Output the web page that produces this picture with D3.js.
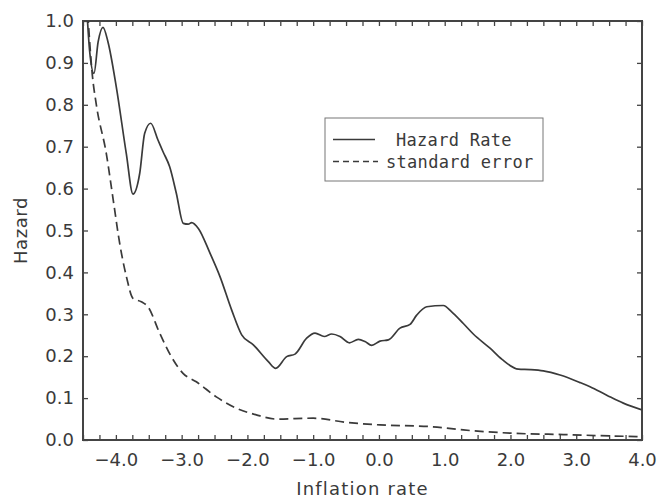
<!DOCTYPE html>
<html>
<head>
<meta charset="utf-8">
<script src="https://cdn.jsdelivr.net/npm/d3@7"></script>
<style>
  body { margin: 0; background: #fff; }
  svg { display: block; }
  .tick text { font-family: "DejaVu Sans", sans-serif; font-size: 18px; fill: #3a3a3a; }
  .tick line { stroke: #444; stroke-width: 1.3; }
  .axis path.domain { display: none; }
</style>
</head>
<body>
<svg id="hazard_chart" width="657" height="498"></svg>
<script>

// inflation rate (x) and hazard rate
var hazard_x = [-4.45, -4.40, -4.333, -4.27, -4.196, -4.12, -3.994, -3.842, -3.74, -3.638, -3.562,
  -3.471, -3.36, -3.283, -3.182, -3.081, -2.975, -2.90, -2.847, -2.746, -2.569, -2.417, -2.239,
  -2.087, -1.910, -1.682, -1.570, -1.403, -1.276, -1.099, -0.972, -0.831, -0.718, -0.592, -0.45,
  -0.314, -0.212, -0.11, 0.016, 0.143, 0.32, 0.473, 0.574, 0.727, 0.979, 1.106, 1.283, 1.435,
  1.689, 1.867, 2.12, 2.30, 2.5, 2.754, 3.058, 3.21, 3.464, 3.716, 4.0];
var hazard_y = [1.05, 0.93, 0.875, 0.95, 0.985, 0.95, 0.843, 0.684, 0.587, 0.636, 0.732,
  0.756, 0.716, 0.688, 0.652, 0.589, 0.517, 0.515, 0.519, 0.505, 0.446, 0.390, 0.310,
  0.251, 0.227, 0.187, 0.171, 0.199, 0.205, 0.243, 0.255, 0.247, 0.253, 0.247, 0.232,
  0.240, 0.235, 0.226, 0.236, 0.239, 0.267, 0.276, 0.298, 0.318, 0.321, 0.306, 0.278, 0.253,
  0.219, 0.193, 0.169, 0.168, 0.165, 0.155, 0.137, 0.127, 0.107, 0.088, 0.072];

// standard error of the hazard
var se_x = [-4.44, -4.358, -4.297, -4.146, -4.033, -3.942, -3.84, -3.74, -3.613, -3.512, -3.334,
  -3.157, -2.979, -2.777, -2.473, -2.169, -1.865, -1.56, -1.0, -0.49, 0.016, 0.777, 1.283,
  2.044, 2.804, 3.564, 4.0];
var se_y = [1.05, 0.871, 0.80, 0.684, 0.565, 0.469, 0.39, 0.338, 0.33, 0.318, 0.255,
  0.199, 0.159, 0.139, 0.103, 0.076, 0.06, 0.05, 0.052, 0.042, 0.036, 0.032, 0.024,
  0.016, 0.013, 0.0095, 0.008];

var x_tick_labels = [-4, -3, -2, -1, 0, 1, 2, 3, 4];
var y_tick_labels = [0, 0.1, 0.2, 0.3, 0.4, 0.5, 0.6, 0.7, 0.8, 0.9, 1.0];
var legend_labels = ["Hazard Rate", "standard error"];

var margin = {top: 21, right: 15, bottom: 58, left: 83};
var width = 657 - margin.left - margin.right;
var height = 498 - margin.top - margin.bottom;

var svg = d3.select("#hazard_chart");
var g = svg.append("g")
  .attr("transform", "translate(" + margin.left + "," + margin.top + ")");

var x = d3.scaleLinear().domain([-4.5, 4.0]).range([0, width]);
var y = d3.scaleLinear().domain([0, 1.0]).range([height, 0]);

var minor_x = d3.range(-4.5, 4.001, 0.25);
var fmt = d3.format(".1f");

// bottom axis, ticks inward
g.append("g")
  .attr("class", "axis")
  .attr("transform", "translate(0," + height + ")")
  .call(d3.axisBottom(x).tickValues(minor_x).tickSizeInner(-5).tickSizeOuter(0).tickPadding(13)
    .tickFormat(function(d) { return x_tick_labels.indexOf(Math.round(d)) >= 0 && Math.abs(d - Math.round(d)) < 1e-6 ? fmt(d) : ""; }));

// top axis, ticks only
g.append("g")
  .attr("class", "axis")
  .call(d3.axisTop(x).tickValues(minor_x).tickSizeInner(-5).tickSizeOuter(0).tickFormat(""));

// left axis
g.append("g")
  .attr("class", "axis")
  .call(d3.axisLeft(y).tickValues(y_tick_labels).tickSizeInner(-5).tickSizeOuter(0).tickPadding(9)
    .tickFormat(d3.format(".1f")));

// right axis, ticks only
g.append("g")
  .attr("class", "axis")
  .attr("transform", "translate(" + width + ",0)")
  .call(d3.axisRight(y).tickValues(y_tick_labels).tickSizeInner(-5).tickSizeOuter(0).tickFormat(""));

// frame
g.append("rect")
  .attr("width", width).attr("height", height)
  .attr("fill", "none").attr("stroke", "#444").attr("stroke-width", 2);

g.append("clipPath").attr("id", "plot_clip")
  .append("rect").attr("width", width).attr("height", height);

var line = d3.line()
  .x(function(d) { return x(d[0]); })
  .y(function(d) { return y(d[1]); })
  .curve(d3.curveMonotoneX);

var hazard_pts = d3.zip(hazard_x, hazard_y);
var se_pts = d3.zip(se_x, se_y);

g.append("path")
  .datum(hazard_pts)
  .attr("clip-path", "url(#plot_clip)")
  .attr("fill", "none").attr("stroke", "#3a3a3a").attr("stroke-width", 1.7)
  .attr("d", line);

g.append("path")
  .datum(se_pts)
  .attr("clip-path", "url(#plot_clip)")
  .attr("fill", "none").attr("stroke", "#3a3a3a").attr("stroke-width", 1.7)
  .attr("stroke-dasharray", "9,5")
  .attr("d", line);

// axis titles
svg.append("text")
  .attr("x", margin.left + width / 2).attr("y", 495)
  .attr("text-anchor", "middle")
  .style("font-family", "DejaVu Sans, sans-serif").style("font-size", "18px")
  .style("letter-spacing", "1.2px").style("fill", "#3a3a3a")
  .text("Inflation rate");

svg.append("text")
  .attr("transform", "translate(27," + (margin.top + height / 2) + ") rotate(-90)")
  .attr("text-anchor", "middle")
  .style("font-family", "DejaVu Sans, sans-serif").style("font-size", "18px")
  .style("letter-spacing", "0.6px").style("fill", "#3a3a3a")
  .text("Hazard");

// legend
var legend = svg.append("g");
legend.append("rect")
  .attr("x", 325).attr("y", 118).attr("width", 218).attr("height", 63)
  .attr("fill", "#fff").attr("stroke", "#777").attr("stroke-width", 1);

legend.append("line")
  .attr("x1", 333).attr("x2", 375).attr("y1", 139.5).attr("y2", 139.5)
  .attr("stroke", "#3a3a3a").attr("stroke-width", 1.6);
legend.append("line")
  .attr("x1", 333).attr("x2", 378).attr("y1", 161.5).attr("y2", 161.5)
  .attr("stroke", "#3a3a3a").attr("stroke-width", 1.6).attr("stroke-dasharray", "6,4");

legend.selectAll("text.lg")
  .data(legend_labels)
  .enter().append("text")
  .attr("class", "lg")
  .attr("x", function(d, i) { return i === 0 ? 396 : 386; })
  .attr("y", function(d, i) { return i === 0 ? 146 : 168; })
  .style("font-family", "DejaVu Sans Mono, monospace").style("font-size", "17px")
  .style("letter-spacing", "0.3px").style("fill", "#3a3a3a")
  .text(function(d) { return d; });

</script>
</body>
</html>
